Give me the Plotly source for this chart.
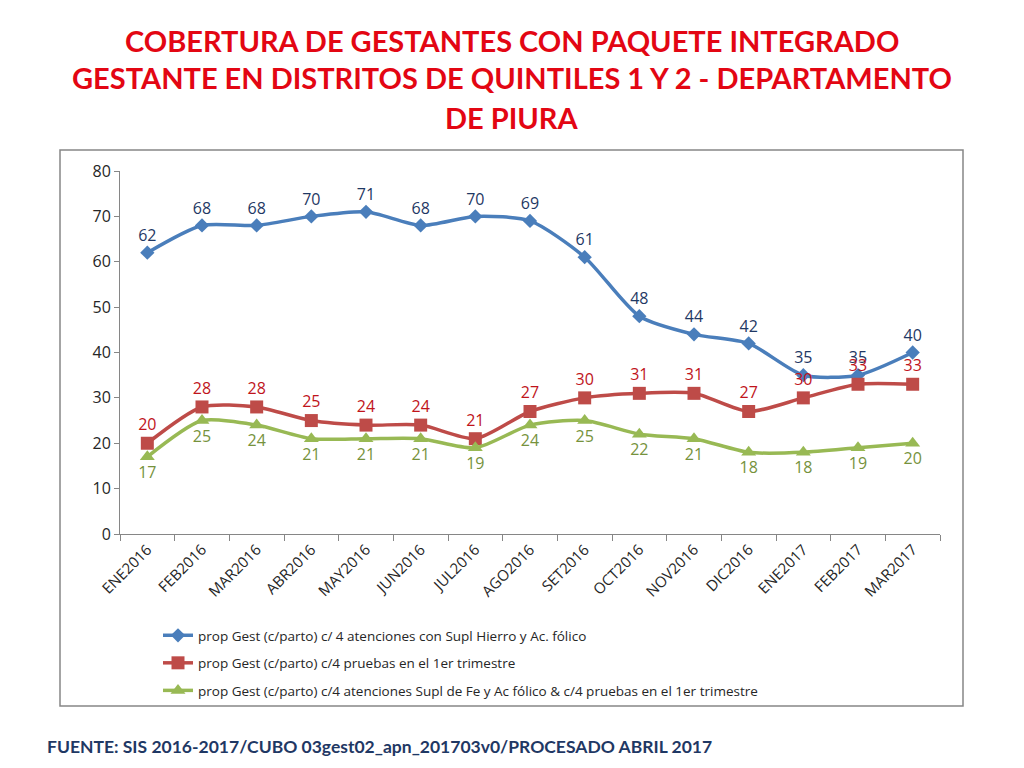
import plotly.graph_objects as go

months = ["ENE2016", "FEB2016", "MAR2016", "ABR2016", "MAY2016", "JUN2016", "JUL2016",
          "AGO2016", "SET2016", "OCT2016", "NOV2016", "DIC2016", "ENE2017", "FEB2017", "MAR2017"]
serie_hierro = [62, 68, 68, 70, 71, 68, 70, 69, 61, 48, 44, 42, 35, 35, 40]
serie_pruebas = [20, 28, 28, 25, 24, 24, 21, 27, 30, 31, 31, 27, 30, 33, 33]
serie_ambos = [17, 25, 24, 21, 21, 21, 19, 24, 25, 22, 21, 18, 18, 19, 20]

name_hierro = "prop Gest (c/parto) c/ 4 atenciones con Supl Hierro y Ac. fólico"
name_pruebas = "prop Gest (c/parto) c/4 pruebas en el 1er trimestre"
name_ambos = "prop Gest (c/parto) c/4 atenciones Supl de Fe y Ac fólico & c/4 pruebas en el 1er trimestre"

title_lines = ["COBERTURA DE GESTANTES CON PAQUETE INTEGRADO",
               "GESTANTE EN DISTRITOS DE QUINTILES 1 Y 2 - DEPARTAMENTO",
               "DE PIURA"]
footer = "FUENTE: SIS 2016-2017/CUBO 03gest02_apn_201703v0/PROCESADO ABRIL 2017"

FONT = "Open Sans"

# screen-pixel -> paper helpers (plot area spans screen x 120..940, y 171..534)
def px(sx):
    return (sx - 120) / 820

def py(sy):
    return (534 - sy) / 363

fig = go.Figure()
fig.add_trace(go.Scatter(
    x=months, y=serie_hierro, name=name_hierro, mode="lines+markers+text",
    line=dict(color="#4A7EBB", width=3.5, shape="spline", smoothing=0.7),
    marker=dict(symbol="diamond", size=11, color="#4A7EBB"),
    text=[str(v) for v in serie_hierro], textposition="top center",
    textfont=dict(color="#1F3864", size=16, family=FONT),
    legendgroup="a",
))
fig.add_trace(go.Scatter(
    x=months, y=serie_pruebas, name=name_pruebas, mode="lines+markers+text",
    line=dict(color="#BE4B48", width=3.5, shape="spline", smoothing=0.7),
    marker=dict(symbol="square", size=13, color="#BE4B48"),
    text=[str(v) for v in serie_pruebas], textposition="top center",
    textfont=dict(color="#C0141B", size=16, family=FONT),
    legendgroup="b",
))
fig.add_trace(go.Scatter(
    x=months, y=serie_ambos, name=name_ambos, mode="lines+markers+text",
    line=dict(color="#98B954", width=3.5, shape="spline", smoothing=0.7),
    marker=dict(symbol="triangle-up", size=13, color="#98B954"),
    text=[str(v) for v in serie_ambos], textposition="bottom center",
    textfont=dict(color="#76923C", size=16, family=FONT),
    legendgroup="c",
))

annotations = []
for line, sy in zip(title_lines, [40, 78, 118]):
    annotations.append(dict(
        text="<b>" + line + "</b>", xref="paper", yref="paper",
        x=px(512), xanchor="center", y=py(sy), yanchor="middle", showarrow=False,
        font=dict(family="Lato", size=29, color="#E30613")))
annotations.append(dict(
    text="<b>" + footer + "</b>", xref="paper", yref="paper",
    x=px(45), xanchor="left", y=py(746), yanchor="middle", showarrow=False,
    font=dict(family="Lato", size=17.5, color="#1F3864")))

fig.update_layout(
    width=1024, height=768,
    margin=dict(l=112, r=92, t=163, b=242),
    paper_bgcolor="white", plot_bgcolor="white",
    font=dict(family=FONT, color="#404040"),
    showlegend=True,
    legend=dict(
        x=px(158), xanchor="left", y=py(620), yanchor="top",
        font=dict(size=13.5, family=FONT, color="#262626"),
        tracegroupgap=7, bgcolor="rgba(0,0,0,0)",
    ),
    xaxis=dict(
        type="category", showgrid=False, showline=True, linecolor="#868686", linewidth=1,
        ticks="outside", tickson="boundaries", ticklen=6, tickcolor="#868686",
        tickangle=-45, tickfont=dict(size=15, color="#262626", family=FONT),
        range=[-0.5, 14.5],
    ),
    yaxis=dict(
        range=[0, 80], dtick=10, showgrid=False, showline=True, linecolor="#868686",
        linewidth=1, ticks="outside", ticklen=5, tickcolor="#868686",
        tickfont=dict(size=16, color="#262626", family=FONT), zeroline=False,
    ),
    shapes=[
        dict(type="rect", xref="paper", yref="paper",
             x0=px(60), x1=px(963), y0=py(706), y1=py(150),
             line=dict(color="#868686", width=1.5), fillcolor="rgba(0,0,0,0)", layer="below"),
    ],
    annotations=annotations,
)

fig.write_html("out.html")
